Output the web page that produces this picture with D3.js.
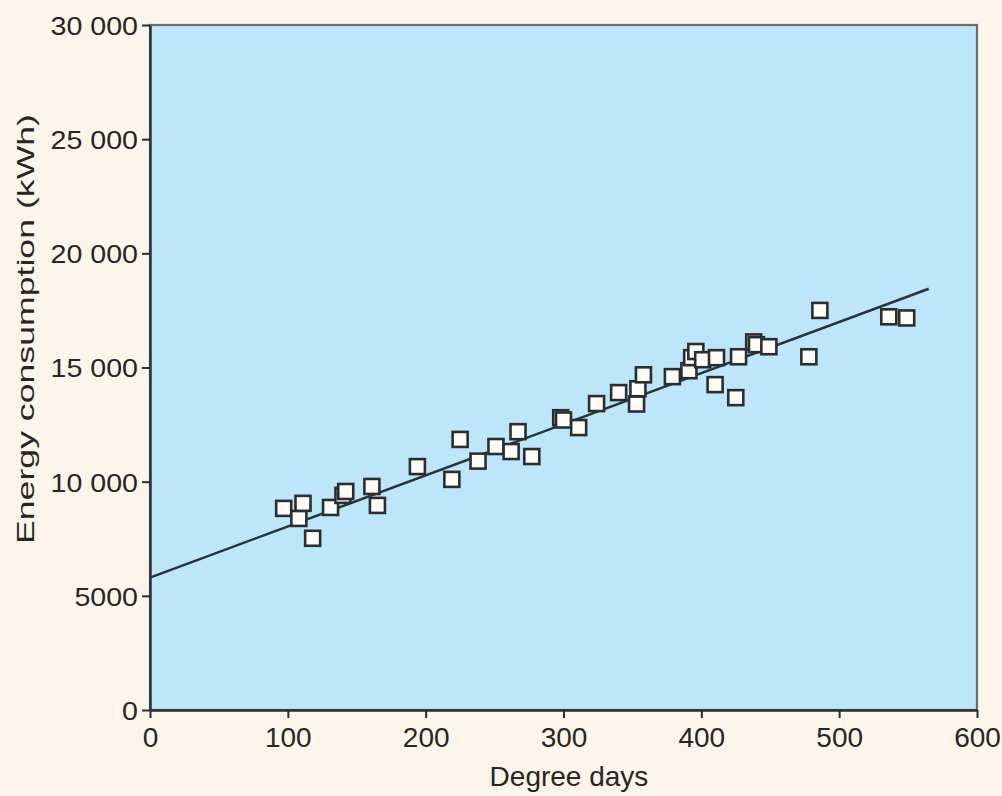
<!DOCTYPE html>
<html>
<head>
<meta charset="utf-8">
<script src="https://cdn.jsdelivr.net/npm/d3@7"></script>
<style>
  body { margin: 0; background: #fdf5e9; }
  text { font-family: "Liberation Sans", Arial, sans-serif; fill: #262626; }
</style>
</head>
<body>
<div id="chart"></div>
<script>
// data
const degreeDays = [97, 108, 111, 118, 131, 140, 142, 161, 165, 194, 219, 225, 238, 251, 262, 267, 277,
  298, 300, 311, 324, 340, 353, 354, 358, 379, 391, 393, 396, 401, 411, 410, 425, 427, 438, 440, 449,
  478, 486, 536, 549];
const energy = [8830, 8390, 9050, 7520, 8870, 9400, 9570, 9790, 8960, 10660, 10100, 11850, 10900, 11540, 11320, 12190, 11100,
  12800, 12700, 12370, 13420, 13900, 13400, 14070, 14680, 14600, 14860, 15430, 15700, 15340, 15430, 14250, 13680, 15470, 16120, 16000, 15910,
  15470, 17500, 17220, 17170];
// fitted line ends
const fitX = [0, 565];
const fitY = [5800, 18450];

const xTicks = [0, 100, 200, 300, 400, 500, 600];
const yTicks = [0, 5000, 10000, 15000, 20000, 25000, 30000];
const yTickLabels = ["0", "5000", "10 000", "15 000", "20 000", "25 000", "30 000"];

const width = 1002, height = 796;
const margin = {left: 150, right: 25, top: 25, bottom: 86};

const svg = d3.select("#chart")
  .append("svg")
    .attr("width", width)
    .attr("height", height);

const x = d3.scaleLinear().domain([0, 600]).range([margin.left, width - margin.right]);
const y = d3.scaleLinear().domain([0, 30000]).range([height - margin.bottom, margin.top]);

// plot background
svg.append("rect")
  .attr("x", x(0)).attr("y", y(30000))
  .attr("width", x(600) - x(0)).attr("height", y(0) - y(30000))
  .attr("fill", "#bde6fb")
  .attr("stroke", "#656d72")
  .attr("stroke-width", 2.2);

// axes
const xAxis = svg.append("g")
  .attr("transform", `translate(0,${y(0)})`)
  .call(d3.axisBottom(x).tickValues(xTicks).tickSize(8).tickSizeOuter(0).tickPadding(9));
const yAxis = svg.append("g")
  .attr("transform", `translate(${x(0)},0)`)
  .call(d3.axisLeft(y).tickValues(yTicks).tickSize(8).tickSizeOuter(0).tickPadding(4)
    .tickFormat((d, i) => yTickLabels[i]));

[xAxis, yAxis].forEach(g => {
  g.select(".domain").attr("stroke", "#2b2f33").attr("stroke-width", 2.4);
  g.selectAll(".tick line").attr("stroke", "#2b2f33").attr("stroke-width", 2);
});
xAxis.selectAll("text").style("font-size", "28px").attr("fill", "#262626");
yAxis.selectAll("text").style("font-size", "26px").attr("fill", "#262626")
  .attr("dy", "0.36em")
  .each(function() {
    const len = this.getComputedTextLength();
    d3.select(this).attr("textLength", len * 1.1).attr("lengthAdjust", "spacingAndGlyphs");
  });

// fitted line
svg.append("path")
  .datum(fitX.map((d, i) => [d, fitY[i]]))
  .attr("d", d3.line().x(d => x(d[0])).y(d => y(d[1])))
  .attr("fill", "none")
  .attr("stroke", "#27353b")
  .attr("stroke-width", 2.5);

// points
const s = 15;
svg.append("g")
  .selectAll("rect")
  .data(degreeDays.map((d, i) => [d, energy[i]]))
  .join("rect")
    .attr("x", d => x(d[0]) - s / 2)
    .attr("y", d => y(d[1]) - s / 2)
    .attr("width", s)
    .attr("height", s)
    .attr("fill", "#fffcf8")
    .attr("stroke", "#2a2e30")
    .attr("stroke-width", 2.6);

// axis titles
svg.append("text")
  .attr("x", 569).attr("y", 786)
  .attr("text-anchor", "middle")
  .style("font-size", "28px")
  .text("Degree days");

svg.append("text")
  .attr("transform", "translate(34,329) rotate(-90)")
  .attr("text-anchor", "middle")
  .attr("textLength", 430)
  .attr("lengthAdjust", "spacingAndGlyphs")
  .style("font-size", "24px")
  .text("Energy consumption (kWh)");
</script>
</body>
</html>
